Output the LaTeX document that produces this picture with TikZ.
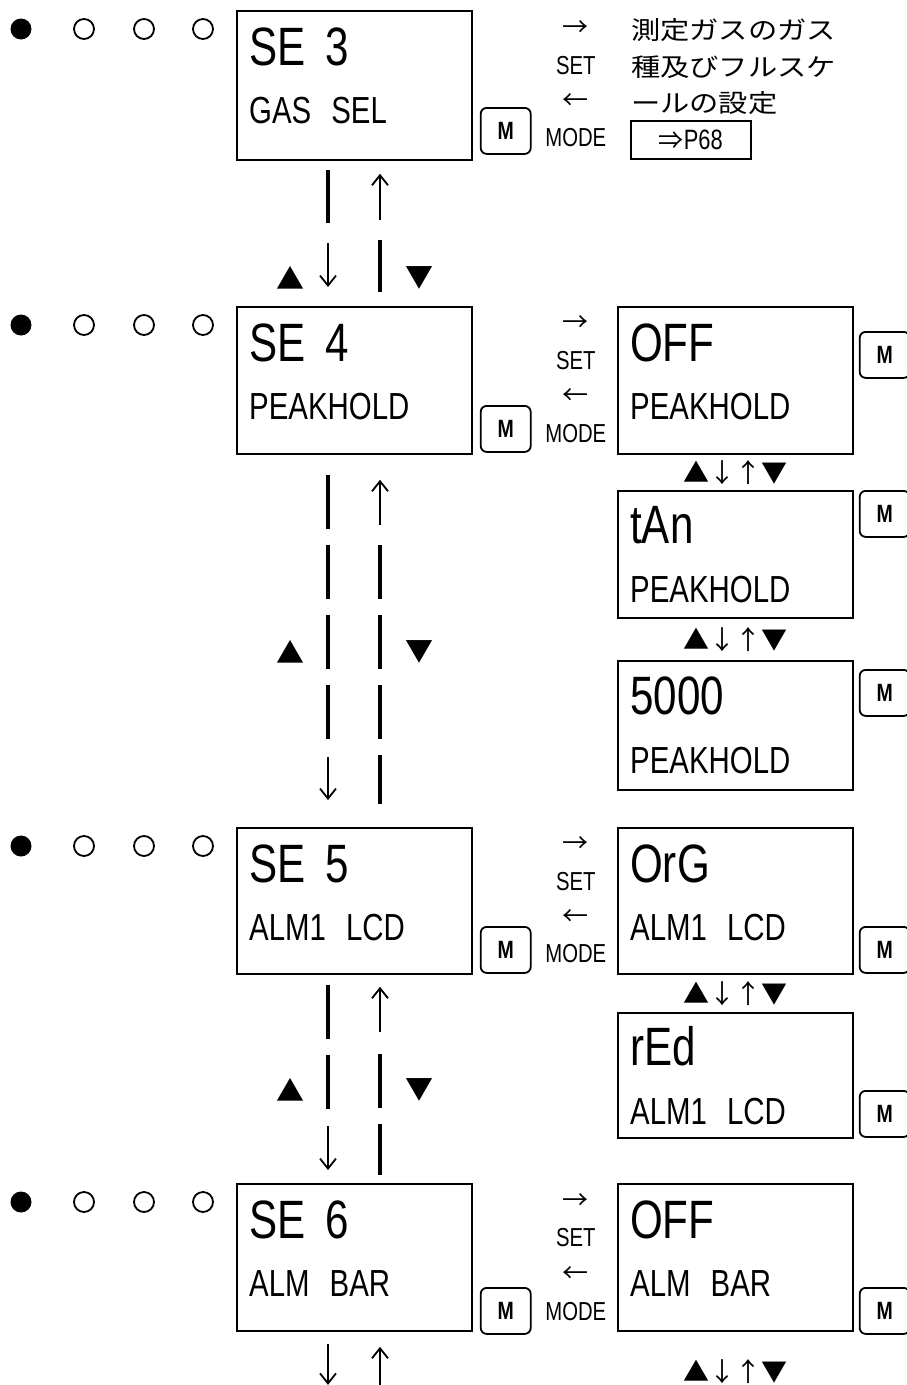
\documentclass[tikz,border=0pt]{standalone}
\usepackage{fontspec}
\setmainfont{Liberation Sans}
\newfontfamily\lcd[FakeStretch=0.78]{Liberation Sans}
\newfontfamily\jp{Noto Sans CJK JP}
\newfontfamily\jpw[FakeStretch=1.17]{Noto Sans CJK JP}
\usetikzlibrary{positioning,arrows.meta,calc}

\begin{document}
\begin{tikzpicture}[x=1pt, y=-1pt,
  lcdbox/.style={draw, line width=1.8pt, minimum width=235pt, inner sep=0pt, anchor=north west},
  bigtxt/.style={anchor=base west, inner sep=0pt, font=\lcd\fontsize{54}{54}\selectfont},
  smalltxt/.style={anchor=base west, inner sep=0pt, font=\lcd\fontsize{37.7}{38}\selectfont},
  mbtn/.style={draw, line width=1.8pt, rounded corners=6pt, minimum width=50pt, minimum height=46pt, inner sep=0pt, font=\lcd\bfseries\fontsize{25}{25}\selectfont},
  keytxt/.style={inner sep=0pt, font=\lcd\fontsize{26}{26}\selectfont},
  arrtxt/.style={inner sep=0pt, font=\jp\fontsize{26}{26}\selectfont},
  tri/.style={inner sep=0pt, font=\jp\fontsize{28}{28}\selectfont},
  desc/.style={anchor=west, inner sep=0pt, font=\jpw\fontsize{25}{25}\selectfont},
  dotfull/.style={circle, fill, minimum size=21pt, inner sep=0pt},
  dotopen/.style={circle, draw, line width=1.8pt, minimum size=20pt, inner sep=0pt},
  seg/.style={line width=4pt},
  dashseg/.style={line width=4pt, dash pattern=on 54pt off 16pt},
  dn/.style={line width=1.8pt, -{Straight Barb[length=10pt,width=16pt]}}]
\useasboundingbox (0,0) rectangle (907,1385);
\coordinate (lx) at (328,0);
\coordinate (rx) at (380,0);

% setting boxes, left column
\node[lcdbox, minimum height=149pt] (se3) at (236,10) {};
\node[lcdbox, minimum height=147pt] (se4) at (236,306) {};
\node[lcdbox, minimum height=146pt] (se5) at (236,827) {};
\node[lcdbox, minimum height=147pt] (se6) at (236,1183) {};
\node[bigtxt] (se3a) at ($(se3.north west)+(13,55)$) {SE\hspace{20pt}3};
\node[smalltxt] (se3b) at ($(se3.north west)+(13,113)$) {GAS\hspace{20pt}SEL};
\node[bigtxt] (se4a) at ($(se4.north west)+(13,55)$) {SE\hspace{20pt}4};
\node[smalltxt] (se4b) at ($(se4.north west)+(13,113)$) {PEAKHOLD};
\node[bigtxt] (se5a) at ($(se5.north west)+(13,55)$) {SE\hspace{20pt}5};
\node[smalltxt] (se5b) at ($(se5.north west)+(13,113)$) {ALM1\hspace{20pt}LCD};
\node[bigtxt] (se6a) at ($(se6.north west)+(13,55)$) {SE\hspace{20pt}6};
\node[smalltxt] (se6b) at ($(se6.north west)+(13,113)$) {ALM\hspace{20pt}BAR};

% value boxes, right column
\node[lcdbox, minimum height=147pt] (off4) at (617,306) {};
\node[lcdbox, minimum height=127pt] (tan) at (617,490) {};
\node[lcdbox, minimum height=129pt] (v5000) at (617,660) {};
\node[lcdbox, minimum height=146pt] (org) at (617,827) {};
\node[lcdbox, minimum height=125pt] (red) at (617,1012) {};
\node[lcdbox, minimum height=147pt] (off6) at (617,1183) {};
\node[bigtxt] (off4a) at ($(off4.north west)+(13,55)$) {OFF};
\node[smalltxt] (off4b) at ($(off4.north west)+(13,113)$) {PEAKHOLD};
\node[bigtxt] (tana) at ($(tan.north west)+(13,53)$) {tAn};
\node[smalltxt] (tanb) at ($(tan.north west)+(13,112)$) {PEAKHOLD};
\node[bigtxt] (v5000a) at ($(v5000.north west)+(13,54)$) {5000};
\node[smalltxt] (v5000b) at ($(v5000.north west)+(13,113)$) {PEAKHOLD};
\node[bigtxt] (orga) at ($(org.north west)+(13,55)$) {OrG};
\node[smalltxt] (orgb) at ($(org.north west)+(13,113)$) {ALM1\hspace{20pt}LCD};
\node[bigtxt] (reda) at ($(red.north west)+(13,53)$) {rEd};
\node[smalltxt] (redb) at ($(red.north west)+(13,112)$) {ALM1\hspace{20pt}LCD};
\node[bigtxt] (off6a) at ($(off6.north west)+(13,55)$) {OFF};
\node[smalltxt] (off6b) at ($(off6.north west)+(13,113)$) {ALM\hspace{20pt}BAR};

% M keys
\node[mbtn, anchor=south west] (m3) at ($(se3.south east)+(7,-6)$) {M};
\node[mbtn, anchor=south west] (m4) at ($(se4.south east)+(7,-2)$) {M};
\node[mbtn, anchor=south west] (m5) at ($(se5.south east)+(7,-1)$) {M};
\node[mbtn, anchor=south west] (m6) at ($(se6.south east)+(7,3)$) {M};
\node[mbtn, anchor=north west] (moff4) at ($(off4.north east)+(5,25)$) {M};
\node[mbtn, anchor=north west] (mtan) at ($(tan.north east)+(5,0)$) {M};
\node[mbtn, anchor=north west] (m5000) at ($(v5000.north east)+(5,9)$) {M};
\node[mbtn, anchor=south west] (morg) at ($(org.south east)+(5,-1)$) {M};
\node[mbtn, anchor=south west] (mred) at ($(red.south east)+(5,-1)$) {M};
\node[mbtn, anchor=south west] (moff6) at ($(off6.south east)+(5,3)$) {M};

% SET / MODE keys
\node[arrtxt] (r3) at ($(se3.north east)+(103,19)$) {→};
\node[keytxt] (set3) at ($(se3.north east)+(103,56)$) {SET};
\node[arrtxt] (l3) at ($(se3.north east)+(103,92)$) {←};
\node[keytxt] (mode3) at ($(se3.north east)+(103,128)$) {MODE};
\node[arrtxt] (r4) at ($(se4.north east)+(103,18)$) {→};
\node[keytxt] (set4) at ($(se4.north east)+(103,55)$) {SET};
\node[arrtxt] (l4) at ($(se4.north east)+(103,91)$) {←};
\node[keytxt] (mode4) at ($(se4.north east)+(103,128)$) {MODE};
\node[arrtxt] (r5) at ($(se5.north east)+(103,18)$) {→};
\node[keytxt] (set5) at ($(se5.north east)+(103,55)$) {SET};
\node[arrtxt] (l5) at ($(se5.north east)+(103,91)$) {←};
\node[keytxt] (mode5) at ($(se5.north east)+(103,127)$) {MODE};
\node[arrtxt] (r6) at ($(se6.north east)+(103,19)$) {→};
\node[keytxt] (set6) at ($(se6.north east)+(103,55)$) {SET};
\node[arrtxt] (l6) at ($(se6.north east)+(103,92)$) {←};
\node[keytxt] (mode6) at ($(se6.north east)+(103,129)$) {MODE};

% note for SE 3
\node[desc] (desc1) at ($(se3.north east)+(158,20)$) {測定ガスのガス};
\node[desc] (desc2) at ($(se3.north east)+(158,57)$) {種及びフルスケ};
\node[desc] (desc3) at ($(se3.north east)+(158,93)$) {ールの設定};
\node[draw, line width=1.8pt, minimum width=120pt, minimum height=38pt, inner sep=0pt] (p68) at ($(se3.north east)+(218,130)$)
  {{\jp\fontsize{25}{25}\selectfont ⇒}{\lcd\fontsize{28}{28}\selectfont P68}};

% status dots
\node[dotfull] (d3a) at (21,29) {};
\node[dotopen] (d3b) at (84,29) {};
\node[dotopen] (d3c) at (144,29) {};
\node[dotopen] (d3d) at (203,29) {};
\node[dotfull] (d4a) at (21,325) {};
\node[dotopen] (d4b) at (84,325) {};
\node[dotopen] (d4c) at (144,325) {};
\node[dotopen] (d4d) at (203,325) {};
\node[dotfull] (d5a) at (21,846) {};
\node[dotopen] (d5b) at (84,846) {};
\node[dotopen] (d5c) at (144,846) {};
\node[dotopen] (d5d) at (203,846) {};
\node[dotfull] (d6a) at (21,1202) {};
\node[dotopen] (d6b) at (84,1202) {};
\node[dotopen] (d6c) at (144,1202) {};
\node[dotopen] (d6d) at (203,1202) {};

% up/down keys
\node[tri] (up3) at ($(se3.south)+(-64,117)$) {▲};
\node[tri] (dn3) at ($(se3.south)+(65,117)$) {▼};
\node[tri] (up4) at ($(se4.south)+(-64,197)$) {▲};
\node[tri] (dn4) at ($(se4.south)+(65,197)$) {▼};
\node[tri] (up5) at ($(se5.south)+(-64,115)$) {▲};
\node[tri] (dn5) at ($(se5.south)+(65,115)$) {▼};
\node[arrtxt] (ud4) at ($(off4.south)!0.5!(tan.north)$) {▲↓↑▼};
\node[arrtxt] (ud4b) at ($(tan.south)!0.5!(v5000.north)$) {▲↓↑▼};
\node[arrtxt] (ud5) at ($(org.south)!0.5!(red.north)$) {▲↓↑▼};
\node[arrtxt] (ud6) at ($(off6.south)+(0,40)$) {▲↓↑▼};

% SE 3 <-> SE 4
\draw[seg] ($(se3.south -| lx)+(0,9)$) -- +(0,53);
\draw[dn] ($(se3.south -| lx)+(0,82)$) -- ($(se4.north -| lx)+(0,-19)$);
\draw[dn] ($(se3.south -| rx)+(0,59)$) -- ($(se3.south -| rx)+(0,13)$);
\draw[seg] ($(se3.south -| rx)+(0,79)$) -- ($(se4.north -| rx)+(0,-14)$);
% SE 4 <-> SE 5
\draw[dashseg] ($(se4.south -| lx)+(0,20)$) -- +(0,264);
\draw[dn] ($(se4.south -| lx)+(0,302)$) -- ($(se5.north -| lx)+(0,-27)$);
\draw[dn] ($(se4.south -| rx)+(0,70)$) -- ($(se4.south -| rx)+(0,25)$);
\draw[dashseg] ($(se4.south -| rx)+(0,90)$) -- ($(se5.north -| rx)+(0,-23)$);
% SE 5 <-> SE 6
\draw[dashseg] ($(se5.south -| lx)+(0,10)$) -- +(0,124);
\draw[dn] ($(se5.south -| lx)+(0,151)$) -- ($(se6.north -| lx)+(0,-13)$);
\draw[dn] ($(se5.south -| rx)+(0,57)$) -- ($(se5.south -| rx)+(0,12)$);
\draw[dashseg] ($(se5.south -| rx)+(0,79)$) -- ($(se6.north -| rx)+(0,-8)$);
% SE 6 -> next
\draw[dn] ($(se6.south -| lx)+(0,12)$) -- +(0,41);
\draw[dn] ($(se6.south -| rx)+(0,55)$) -- +(0,-40);
\end{tikzpicture}
\end{document}
